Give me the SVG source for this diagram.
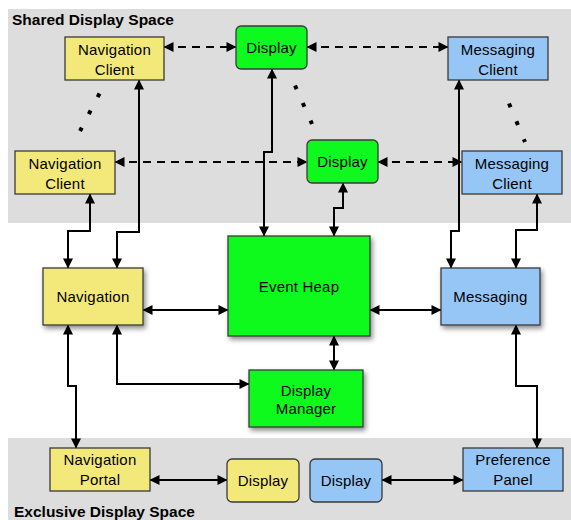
<svg xmlns="http://www.w3.org/2000/svg" width="571" height="520" viewBox="0 0 571 520">
<defs>
<marker id="ah" viewBox="0 0 10 10" refX="9.5" refY="5" markerWidth="11" markerHeight="10" markerUnits="userSpaceOnUse" orient="auto-start-reverse">
<path d="M0,0 L10,5 L0,10 z" fill="#000"/>
</marker>
<filter id="sh" x="-20%" y="-20%" width="150%" height="150%">
<feDropShadow dx="2" dy="3" stdDeviation="2.5" flood-color="#000" flood-opacity="0.45"/>
</filter>
</defs>
<style>
.band{fill:#dcdddc}
.title{font-family:"Liberation Sans",Arial,sans-serif;font-weight:bold;font-size:15.5px;fill:#000}
.t{font-family:"Liberation Sans",Arial,sans-serif;font-size:15px;fill:#000;text-anchor:middle;letter-spacing:0.2px}
.y{fill:#f3e97a;stroke:#3a3a3a;stroke-width:1.3}
.g{fill:#0efa1e;stroke:#3a3a3a;stroke-width:1.3}
.b{fill:#96c6f5;stroke:#3a3a3a;stroke-width:1.3}
.c{fill:none;stroke:#000;stroke-width:2;marker-start:url(#ah);marker-end:url(#ah)}
.d{stroke-dasharray:8 6}
.dot{fill:none;stroke:#000;stroke-width:4}
</style>
<rect class="band" x="8" y="9" width="563" height="214"/>
<rect class="band" x="8" y="438" width="563" height="82"/>
<text class="title" x="12" y="25">Shared Display Space</text>
<text class="title" x="14" y="517">Exclusive Display Space</text>

<g id="connectors">
<path class="c d" d="M164,47 H236"/>
<path class="c d" d="M307,47 H448"/>
<path class="c d" d="M115,162 H307"/>
<path class="c d" d="M378,162 H462"/>
<path class="c" d="M139,80 V232 H117 V268"/>
<path class="c" d="M90,194 V231 H68 V268"/>
<path class="c" d="M272,69 V152 H264 V236"/>
<path class="c" d="M343,183 V208 H334 V236"/>
<path class="c" d="M459,80 V231 H451 V268"/>
<path class="c" d="M537,194 V230 H516 V268"/>
<path class="c" d="M143,310 H228"/>
<path class="c" d="M370,310 H441"/>
<path class="c" d="M334,336 V370"/>
<path class="c" d="M117,325 V384 H249"/>
<path class="c" d="M68,325 V386 H76 V448"/>
<path class="c" d="M516,325 V386 H537 V448"/>
<path class="c" d="M150,480 H227"/>
<path class="c" d="M382,480 H463"/>
<path class="dot" d="M99.5,93.5 L80,131" stroke-dasharray="4 15.2"/>
<path class="dot" d="M295,85.5 L312,124" stroke-dasharray="4 15.2"/>
<path class="dot" d="M509,103.5 L525,142" stroke-dasharray="4 15.3"/>
</g>

<g id="nav-client-1"><rect class="y" x="65" y="37" width="99" height="43"/><text class="t" x="114.5" y="54.5">Navigation</text><text class="t" x="114.5" y="74.5">Client</text></g>
<g id="display-1"><rect class="g" x="236" y="26" width="71" height="43" rx="5"/><text class="t" x="271.5" y="53">Display</text></g>
<g id="msg-client-1"><rect class="b" x="448" y="37" width="100" height="43"/><text class="t" x="498" y="54.5">Messaging</text><text class="t" x="498" y="74.5">Client</text></g>
<g id="nav-client-2"><rect class="y" x="15" y="151" width="100" height="43"/><text class="t" x="65" y="168.5">Navigation</text><text class="t" x="65" y="188.5">Client</text></g>
<g id="display-2"><rect class="g" x="307" y="140" width="71" height="43" rx="5"/><text class="t" x="342.5" y="167">Display</text></g>
<g id="msg-client-2"><rect class="b" x="462" y="151" width="100" height="43"/><text class="t" x="512" y="168.5">Messaging</text><text class="t" x="512" y="188.5">Client</text></g>

<g id="navigation"><rect class="y" x="43" y="268" width="100" height="57" filter="url(#sh)"/><text class="t" x="93" y="302">Navigation</text></g>
<g id="event-heap"><rect class="g" x="228" y="236" width="142" height="100" filter="url(#sh)"/><text class="t" x="299" y="292">Event Heap</text></g>
<g id="messaging"><rect class="b" x="441" y="268" width="99" height="57" filter="url(#sh)"/><text class="t" x="490.5" y="302">Messaging</text></g>
<g id="display-manager"><rect class="g" x="249" y="370" width="114" height="57" filter="url(#sh)"/><text class="t" x="306" y="395.5">Display</text><text class="t" x="306" y="414">Manager</text></g>

<g id="nav-portal"><rect class="y" x="50" y="448" width="100" height="43"/><text class="t" x="100" y="465">Navigation</text><text class="t" x="100" y="485">Portal</text></g>
<g id="display-yellow"><rect class="y" x="227" y="459" width="72" height="43" rx="5"/><text class="t" x="263" y="486">Display</text></g>
<g id="display-blue"><rect class="b" x="310" y="459" width="72" height="43" rx="5"/><text class="t" x="346" y="486">Display</text></g>
<g id="pref-panel"><rect class="b" x="463" y="448" width="100" height="43"/><text class="t" x="513" y="465">Preference</text><text class="t" x="513" y="485">Panel</text></g>
</svg>
